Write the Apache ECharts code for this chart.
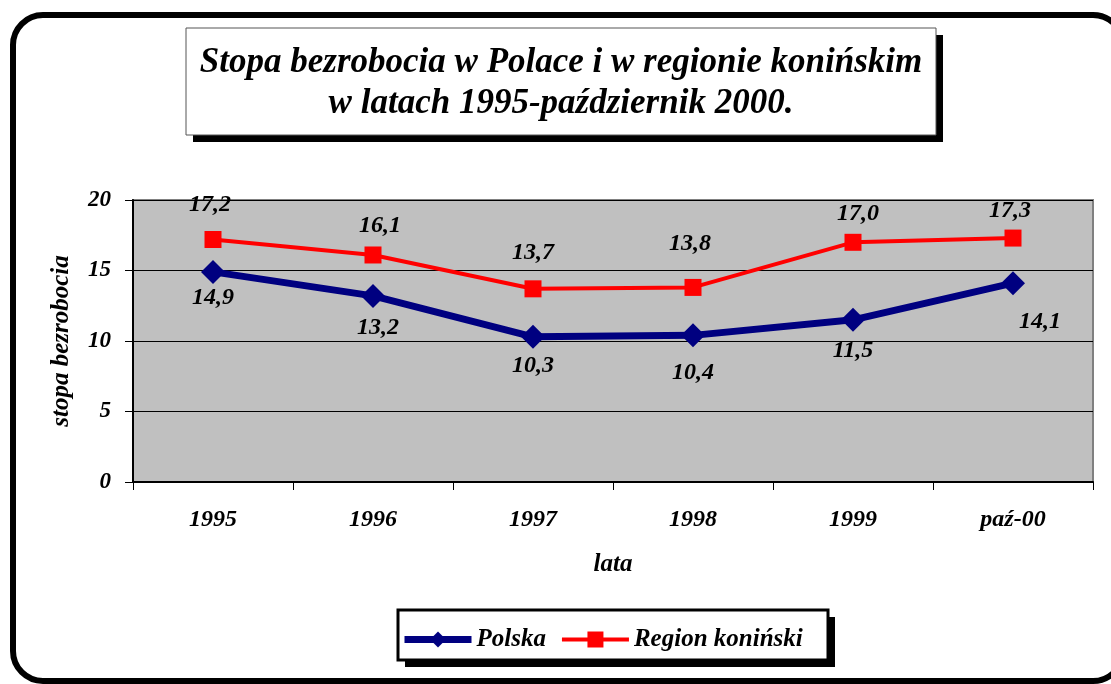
<!DOCTYPE html>
<html>
<head>
<meta charset="utf-8">
<script src="https://cdn.jsdelivr.net/npm/echarts@6/dist/echarts.min.js"></script>
<style>
  html, body { margin: 0; padding: 0; background: #fff; }
  #chart { width: 1111px; height: 684px; }
</style>
</head>
<body>
<div id="chart"></div>
<script>
// data
const categories = ['1995', '1996', '1997', '1998', '1999', 'paź-00'];
const polska = [14.9, 13.2, 10.3, 10.4, 11.5, 14.1];
const regionKoninski = [17.2, 16.1, 13.7, 13.8, 17.0, 17.3];
const yTicks = { min: 0, max: 20, interval: 5 };

// small nudges for the data labels, [dx, dy]
const polskaLabelShift = [[0, -4], [5, 2], [0, -1], [0, 7], [0, 1], [27, 9]];
const regionLabelShift = [[-3, -1], [7, 4], [0, -3], [-3, -10], [5, 5], [-3, 6]];

const FONT = "'Liberation Serif', 'DejaVu Serif', serif";

const fmt = p => p.value.toFixed(1).replace('.', ',');

const chart = echarts.init(document.getElementById('chart'));

const option = {
    backgroundColor: '#fff',
    animation: false,
    textStyle: { fontFamily: FONT },
    title: {
        text: 'Stopa bezrobocia w Polace i w regionie konińskim\nw latach 1995-październik 2000.',
        left: 556,
        top: 37,
        textAlign: 'center',
        textStyle: {
            fontFamily: FONT,
            fontSize: 35,
            fontWeight: 'bold',
            fontStyle: 'italic',
            color: '#000',
            lineHeight: 41
        }
    },
    legend: {
        left: 396,
        top: 622,
        itemWidth: 67,
        itemHeight: 20,
        itemGap: 14,
        textStyle: {
            fontFamily: FONT,
            fontSize: 25,
            fontWeight: 'bold',
            fontStyle: 'italic',
            color: '#000'
        },
        data: [
            { name: 'Polska', lineStyle: { width: 7 } },
            { name: 'Region koniński', lineStyle: { width: 4 } }
        ]
    },
    grid: {
        left: 133,
        right: 18,
        top: 200,
        bottom: 202,
        show: true,
        backgroundColor: '#c0c0c0',
        borderColor: '#808080',
        borderWidth: 2
    },
    xAxis: {
        type: 'category',
        data: categories,
        boundaryGap: true,
        name: 'lata',
        nameLocation: 'middle',
        nameGap: 70,
        nameTextStyle: { fontSize: 25, fontWeight: 'bold', fontStyle: 'italic', color: '#000' },
        axisLine: { lineStyle: { color: '#000', width: 2 } },
        axisTick: { show: true, length: 8, lineStyle: { color: '#000' } },
        axisLabel: { margin: 26, fontSize: 24, fontWeight: 'bold', fontStyle: 'italic', color: '#000' }
    },
    yAxis: {
        type: 'value',
        min: yTicks.min,
        max: yTicks.max,
        interval: yTicks.interval,
        name: 'stopa bezrobocia',
        nameLocation: 'middle',
        nameRotate: 90,
        nameGap: 59,
        nameTextStyle: { fontSize: 25, fontWeight: 'bold', fontStyle: 'italic', color: '#000' },
        axisLine: { show: true, lineStyle: { color: '#000', width: 2 } },
        axisTick: { show: true, length: 8, lineStyle: { color: '#000' } },
        axisLabel: { margin: 22, fontSize: 23, fontWeight: 'bold', fontStyle: 'italic', color: '#000' },
        splitLine: { show: true, lineStyle: { color: '#000', width: 1 } }
    },
    series: [
        {
            name: 'Polska',
            type: 'line',
            data: polska.map((v, i) => ({
                value: v,
                label: { offset: polskaLabelShift[i] }
            })),
            symbol: 'diamond',
            symbolSize: 24,
            color: '#000080',
            lineStyle: { color: '#000080', width: 7 },
            itemStyle: { color: '#000080' },
            z: 3,
            label: {
                show: true,
                position: 'bottom',
                distance: 6,
                formatter: fmt,
                fontFamily: FONT,
                fontSize: 24,
                fontWeight: 'bold',
                fontStyle: 'italic',
                color: '#000'
            }
        },
        {
            name: 'Region koniński',
            type: 'line',
            data: regionKoninski.map((v, i) => ({
                value: v,
                label: { offset: regionLabelShift[i] }
            })),
            symbol: 'rect',
            symbolSize: 17,
            color: '#ff0000',
            lineStyle: { color: '#ff0000', width: 4 },
            itemStyle: { color: '#ff0000' },
            z: 4,
            label: {
                show: true,
                position: 'top',
                distance: 13,
                formatter: fmt,
                fontFamily: FONT,
                fontSize: 24,
                fontWeight: 'bold',
                fontStyle: 'italic',
                color: '#000'
            }
        }
    ],
    graphic: [
        // outer rounded frame
        {
            type: 'rect',
            z: -10,
            shape: { x: 13, y: 15, width: 1110, height: 666, r: 30 },
            style: { fill: 'transparent', stroke: '#000', lineWidth: 6 }
        },
        // title box shadow + box
        {
            type: 'rect',
            z: -5,
            shape: { x: 193, y: 35, width: 750, height: 107 },
            style: { fill: '#000' }
        },
        {
            type: 'rect',
            z: -4,
            shape: { x: 186, y: 28, width: 750, height: 107 },
            style: { fill: '#fff', stroke: '#555', lineWidth: 1 }
        },
        // legend box shadow + box
        {
            type: 'rect',
            z: -5,
            shape: { x: 405, y: 617, width: 430, height: 50 },
            style: { fill: '#000' }
        },
        {
            type: 'rect',
            z: -4,
            shape: { x: 398, y: 610, width: 430, height: 50 },
            style: { fill: '#fff', stroke: '#000', lineWidth: 3 }
        }
    ]
};

chart.setOption(option);
</script>
</body>
</html>
